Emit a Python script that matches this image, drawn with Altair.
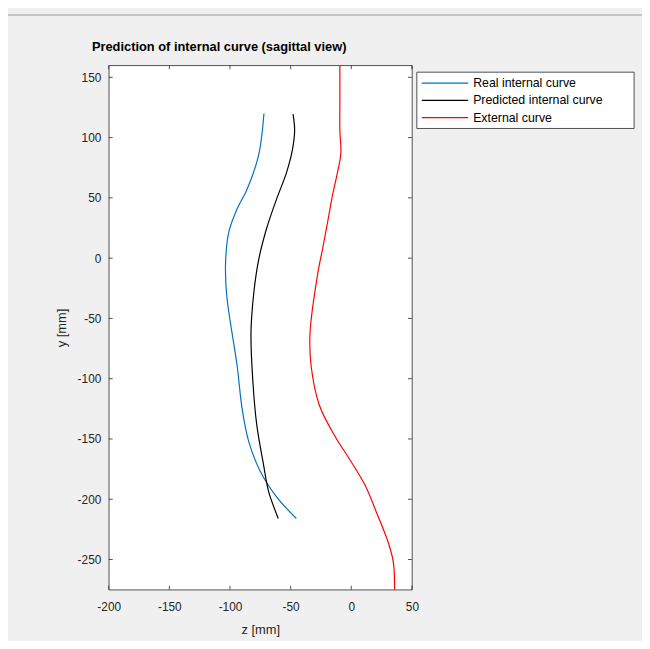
import altair as alt
import pandas as pd

# --- data ---
real_z = [-72, -76.5, -86, -94.1, -100.9, -103.6, -102.8, -94.1, -90, -84.6, -75.2, -61.6, -45.3]
real_y = [120, 85, 57, 41, 22, -2, -30, -89.5, -125, -152, -176.5, -198, -216]

pred_z = [-48, -46.7, -48.5, -53.4, -61.6, -69.7, -76.5, -80.5, -82.7, -81.1, -77.9, -72.4, -68.3, -60.2]
pred_y = [119.5, 106, 90, 71, 49, 25, -2, -30, -62, -103, -138.5, -171, -193, -216]

ext_z = [-9.4, -9.4, -9.4, -8.6, -11.4, -15.5, -19.5, -23.6, -27.7, -34, -33.1, -26.3, -12.7, -1.9, 11.7, 21.2, 30.7, 34.8, 35.7]
ext_y = [165, 130, 106, 87, 71, 52, 30, 8, -13, -62, -89.5, -122, -149, -166, -189, -212, -236.5, -253, -280]

series_names = ["Real internal curve", "Predicted internal curve", "External curve"]
series_colors = ["#0072BD", "#000000", "#FF0000"]

x_ticks = [-200, -150, -100, -50, 0, 50]
y_ticks = [-250, -200, -150, -100, -50, 0, 50, 100, 150]

rows = []
for name, zs, ys in zip(series_names, [real_z, pred_z, ext_z], [real_y, pred_y, ext_y]):
    for i, (z, y) in enumerate(zip(zs, ys)):
        rows.append({"series": name, "z": z, "y": y, "idx": i})
df = pd.DataFrame(rows)

W, H = 307, 531
FONT = "Liberation Sans"
MINUS_FIX = "replace(datum.label, '\u2212', '-')"

xscale = alt.Scale(domain=[-200, 50], nice=False, zero=False)
yscale = alt.Scale(domain=[-275, 160], nice=False, zero=False)

lines = alt.Chart(df).mark_line(strokeWidth=1.2, clip=True, interpolate="catmull-rom").encode(
    x=alt.X("z:Q", scale=xscale, title="z [mm]",
            axis=alt.Axis(values=x_ticks, grid=False, tickSize=0, domain=False, labelFlush=False,
                          labelPadding=12, titlePadding=11, labelExpr=MINUS_FIX)),
    y=alt.Y("y:Q", scale=yscale, title="y [mm]",
            axis=alt.Axis(values=y_ticks, grid=False, tickSize=0, domain=False, labelFlush=False,
                          labelPadding=8, titlePadding=9, labelExpr=MINUS_FIX)),
    color=alt.Color("series:N",
                    scale=alt.Scale(domain=series_names, range=series_colors),
                    legend=None),
    order="idx:Q",
)

xt = pd.DataFrame({"v": x_ticks})
yt = pd.DataFrame({"v": y_ticks})
tick_color = "#262626"
xb = alt.Chart(xt).mark_rule(color=tick_color, strokeWidth=0.8).encode(
    x=alt.X("v:Q", scale=xscale), y=alt.value(H), y2=alt.value(H - 4))
xtp = alt.Chart(xt).mark_rule(color=tick_color, strokeWidth=0.8).encode(
    x=alt.X("v:Q", scale=xscale), y=alt.value(0), y2=alt.value(4))
yl = alt.Chart(yt).mark_rule(color=tick_color, strokeWidth=0.8).encode(
    y=alt.Y("v:Q", scale=yscale), x=alt.value(0), x2=alt.value(4))
yr = alt.Chart(yt).mark_rule(color=tick_color, strokeWidth=0.8).encode(
    y=alt.Y("v:Q", scale=yscale), x=alt.value(W), x2=alt.value(W - 4))

one = pd.DataFrame({"a": [0]})
topline = alt.Chart(one).mark_rule(color="#c4c4c4", strokeWidth=2, clip=False).encode(
    x=alt.value(-102), x2=alt.value(W + 233), y=alt.value(-51))

# legend (drawn manually, MATLAB style box)
LX, LY, LW, LH = 312, 7, 220, 57
legend_layers = [
    alt.Chart(one).mark_rect(fill="white", stroke="#262626", strokeWidth=0.8, clip=False).encode(
        x=alt.value(LX), x2=alt.value(LX + LW), y=alt.value(LY), y2=alt.value(LY + LH))
]
for k, (name, col) in enumerate(zip(series_names, series_colors)):
    yy = LY + 11 + k * 17.5
    legend_layers.append(
        alt.Chart(one).mark_rule(color=col, strokeWidth=1.2, clip=False).encode(
            x=alt.value(LX + 5), x2=alt.value(LX + 52), y=alt.value(yy)))
    legend_layers.append(
        alt.Chart(one).mark_text(text=name, align="left", baseline="middle", fontSize=12.5,
                                 font=FONT, color="black", clip=False).encode(
            x=alt.value(LX + 57), y=alt.value(yy)))

chart = alt.layer(topline, lines, xb, xtp, yl, yr, *legend_layers).properties(
    width=W, height=H,
    title=alt.Title("Prediction of internal curve (sagittal view)", anchor="start", frame="group",
                    dx=-17, fontSize=13, fontWeight="bold", font=FONT, color="black", offset=-41),
    autosize="none",
    padding={"left": 102, "top": 54, "right": 233, "bottom": 48},
    background="#f0f0f0",
).configure_view(
    stroke="#262626", strokeWidth=0.8, fill="white"
).configure_axis(
    labelFont=FONT, titleFont=FONT, labelFontSize=12, titleFontSize=13,
    labelColor="#262626", titleColor="#262626", titleFontWeight="normal"
)

chart.save("out.html", embed_options={"renderer": "svg", "actions": False})
